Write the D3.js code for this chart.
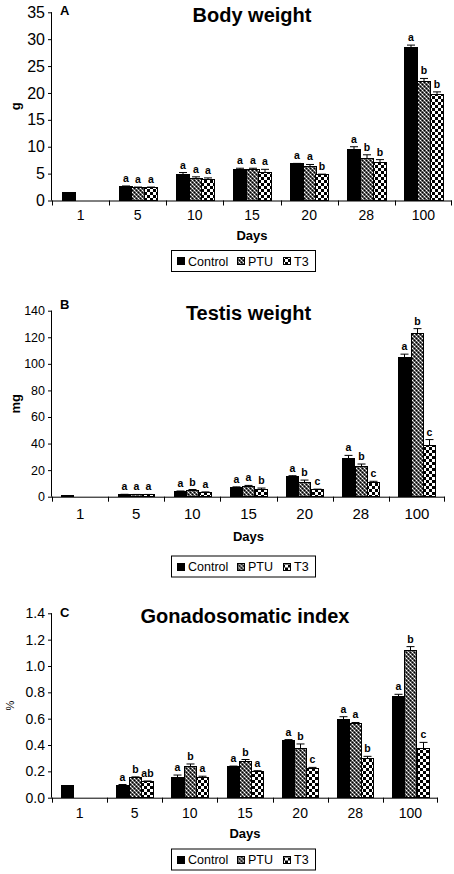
<!DOCTYPE html>
<html><head><meta charset="utf-8">
<script src="https://cdn.jsdelivr.net/npm/d3@7/dist/d3.min.js"></script>
<style>body{margin:0;background:#fff}svg{display:block;font-family:"Liberation Sans",Arial,sans-serif}</style>
</head><body>
<script>
const categories = ["1","5","10","15","20","28","100"];
const series = ["Control","PTU","T3"];

const bodyControl = [1.5, 2.6, 4.8, 5.8, 6.8, 9.4, 28.4];
const bodyControlErr = [0, 0.1, 0.4, 0.2, 0.1, 0.6, 0.5];
const bodyPTU = [null, 2.4, 4.1, 5.8, 6.3, 7.9, 22.2];
const bodyPTUErr = [null, 0.1, 0.3, 0.2, 0.4, 0.6, 0.5];
const bodyT3 = [null, 2.4, 3.9, 5.2, 4.8, 7.1, 19.7];
const bodyT3Err = [null, 0.1, 0.3, 0.6, 0.1, 0.5, 0.5];
const bodySigControl = [null,"a","a","a","a","a","a"];
const bodySigPTU = [null,"a","a","a","a","b","b"];
const bodySigT3 = [null,"a","a","a","b","b","b"];

const testisControl = [0.8, 1.5, 4.0, 7.0, 15.0, 28.4, 104.8];
const testisControlErr = [0, 0.3, 0.3, 0.4, 0.8, 2.7, 2.5];
const testisPTU = [null, 1.5, 5.0, 8.0, 10.8, 22.8, 123.0];
const testisPTUErr = [null, 0.2, 0.4, 0.5, 1.7, 1.8, 3.5];
const testisT3 = [null, 1.5, 3.3, 5.5, 5.3, 11.0, 38.2];
const testisT3Err = [null, 0.2, 0.3, 1.0, 0.4, 0.6, 4.8];
const testisSigControl = [null,"a","a","a","a","a","a"];
const testisSigPTU = [null,"a","b","a","b","b","b"];
const testisSigT3 = [null,"a","a","b","c","c","c"];

const gsiControl = [0.09, 0.095, 0.155, 0.235, 0.437, 0.597, 0.765];
const gsiControlErr = [0, 0.005, 0.017, 0.005, 0.004, 0.018, 0.02];
const gsiPTU = [null, 0.153, 0.24, 0.273, 0.37, 0.567, 1.12];
const gsiPTUErr = [null, 0.005, 0.016, 0.017, 0.038, 0.004, 0.027];
const gsiT3 = [null, 0.122, 0.157, 0.2, 0.218, 0.299, 0.375];
const gsiT3Err = [null, 0.005, 0.006, 0.005, 0.012, 0.015, 0.045];
const gsiSigControl = [null,"a","a","a","a","a","a"];
const gsiSigPTU = [null,"b","b","b","b","a","b"];
const gsiSigT3 = [null,"ab","a","a","c","b","c"];

const bodyTicks = [0,5,10,15,20,25,30,35];
const testisTicks = [0,20,40,60,80,100,120,140];
const gsiTicks = [0,0.2,0.4,0.6,0.8,1.0,1.2,1.4];

const svg = d3.select("body").append("svg").attr("width",454).attr("height",874);
svg.append("rect").attr("width",454).attr("height",874).attr("fill","#fff");

const defs = svg.append("defs");
const pp = defs.append("pattern").attr("id","ptu").attr("width",4).attr("height",4).attr("patternUnits","userSpaceOnUse");
pp.append("rect").attr("width",4).attr("height",4).attr("fill","#555");
[[0,0,"#fff"],[2,2,"#fff"],[2,0,"#000"],[0,2,"#000"],[1,1,"#aaa"],[3,3,"#aaa"]].forEach(([x,y,c])=>pp.append("rect").attr("x",x).attr("y",y).attr("width",1).attr("height",1).attr("fill",c));
const tp = defs.append("pattern").attr("id","t3").attr("width",6).attr("height",6).attr("patternUnits","userSpaceOnUse");
tp.append("rect").attr("width",6).attr("height",6).attr("fill","#fff");
tp.append("rect").attr("width",3).attr("height",3).attr("fill","#000");
tp.append("rect").attr("x",3).attr("y",3).attr("width",3).attr("height",3).attr("fill","#000");
const fills = {Control:"#000", PTU:"url(#ptu)", T3:"url(#t3)"};

function drawPanel(p){
  const g = svg.append("g");
  const x = d3.scaleBand().domain(categories).range([p.x0,p.x1]).padding(0);
  const xs = d3.scaleBand().domain(series).range([0,x.bandwidth()]).paddingInner(0).paddingOuter(0.75);
  const y = d3.scaleLinear().domain([0,p.max]).range([p.y0,p.yTop]);
  series.forEach((s,si)=>{
    const vals = p.values[si], errs = p.errs[si], sig = p.sig[si];
    categories.forEach((c,i)=>{
      const v = vals[i]; if(v==null) return;
      const bx = Math.round(x(c)+xs(s))+0.5, bw = Math.round(xs.bandwidth());
      const top = y(v);
      g.append("rect").attr("x",bx).attr("y",top).attr("width",bw).attr("height",p.y0-top)
        .attr("fill",fills[s]).attr("stroke","#000").attr("stroke-width",1).attr("shape-rendering","crispEdges");
      const e = errs[i]||0;
      const cx = bx+bw/2;
      let labY = top;
      if(e>0){
        const ey = y(v+e);
        g.append("line").attr("x1",cx).attr("x2",cx).attr("y1",top).attr("y2",ey).attr("stroke","#000");
        g.append("line").attr("x1",cx-4).attr("x2",cx+4).attr("y1",ey).attr("y2",ey).attr("stroke","#000");
        labY = ey;
      }
      if(sig[i]) g.append("text").attr("x",cx).attr("y",labY-4).attr("text-anchor","middle")
        .attr("font-size",10.5).attr("font-weight","bold").text(sig[i]);
    });
  });
  const ya = g.append("g").attr("transform",`translate(${p.x0},0)`)
    .call(d3.axisLeft(y).tickValues(p.ticks).tickSize(4).tickPadding(3).tickFormat(p.fmt));
  ya.select(".domain").attr("d",`M-0.5,${p.y0}V${p.yTop}`).attr("stroke","#000");
  ya.selectAll("text").attr("font-size",p.yFont).attr("font-family","Liberation Sans, Arial").attr("fill","#000");
  const xa = g.append("g").attr("transform",`translate(0,${p.y0})`)
    .call(d3.axisBottom(x).tickSize(0).tickPadding(p.xPad));
  xa.select(".domain").attr("d",`M${p.x0},0.5H${p.x1}`).attr("stroke","#000");
  xa.selectAll("text").attr("font-size",p.xFont).attr("font-family","Liberation Sans, Arial").attr("fill","#000");
  categories.forEach(c=>{
    g.append("line").attr("x1",Math.round(x(c))+0.5).attr("x2",Math.round(x(c))+0.5).attr("y1",p.y0).attr("y2",p.y0+5).attr("stroke","#000");
  });
  g.append("line").attr("x1",p.x1-0.5).attr("x2",p.x1-0.5).attr("y1",p.y0).attr("y2",p.y0+5).attr("stroke","#000");
  g.append("text").attr("x",(p.x0+p.x1)/2).attr("y",p.titleY).attr("text-anchor","middle")
    .attr("font-size",20).attr("font-weight","bold").text(p.title);
  g.append("text").attr("x",60).attr("y",p.letterY).attr("font-size",13).attr("font-weight","bold").text(p.letter);
  g.append("text").attr("transform",`translate(${p.ylabX},${(p.y0+p.yTop)/2}) rotate(-90)`)
    .attr("text-anchor","middle").attr("dominant-baseline","central")
    .attr("font-size",p.ylabSize).attr("font-weight",p.ylabWeight).text(p.ylab);
  g.append("text").attr("x",(p.x0+p.x1)/2).attr("y",p.daysY).attr("text-anchor","middle")
    .attr("font-size",13).attr("font-weight","bold").text("Days");
  const lg = g.append("g").attr("transform",`translate(171,${p.legY})`);
  lg.append("rect").attr("x",0.5).attr("y",0.5).attr("width",144).attr("height",21).attr("fill","#fff").attr("stroke","#000");
  const sw = [6,66,112], tx = [17,77,123];
  series.forEach((s,i)=>{
    lg.append("rect").attr("x",sw[i]+0.5).attr("y",7.5).attr("width",7).attr("height",7).attr("fill",fills[s]).attr("stroke","#000").attr("shape-rendering","crispEdges");
    lg.append("text").attr("x",tx[i]).attr("y",15.5).attr("font-size",12.5).text(s);
  });
}

drawPanel({x0:52,x1:452,y0:200.5,yTop:12.3,max:35,ticks:bodyTicks,fmt:d3.format("d"),yFont:16,xFont:14,xPad:10,
  values:[bodyControl,bodyPTU,bodyT3],errs:[bodyControlErr,bodyPTUErr,bodyT3Err],sig:[bodySigControl,bodySigPTU,bodySigT3],
  title:"Body weight",titleY:21.5,letter:"A",letterY:15,ylab:"g",ylabX:15,ylabSize:13,ylabWeight:"bold",daysY:240,legY:250});
drawPanel({x0:52,x1:445,y0:496.7,yTop:310.7,max:140,ticks:testisTicks,fmt:d3.format("d"),yFont:12.5,xFont:15,xPad:12,
  values:[testisControl,testisPTU,testisT3],errs:[testisControlErr,testisPTUErr,testisT3Err],sig:[testisSigControl,testisSigPTU,testisSigT3],
  title:"Testis weight",titleY:320,letter:"B",letterY:309,ylab:"mg",ylabX:15,ylabSize:13,ylabWeight:"bold",daysY:541,legY:555.5});
drawPanel({x0:52,x1:438,y0:797.7,yTop:613.3,max:1.4,ticks:gsiTicks,fmt:d3.format(".1f"),yFont:14,xFont:14,xPad:10,
  values:[gsiControl,gsiPTU,gsiT3],errs:[gsiControlErr,gsiPTUErr,gsiT3Err],sig:[gsiSigControl,gsiSigPTU,gsiSigT3],
  title:"Gonadosomatic index",titleY:623.3,letter:"C",letterY:617,ylab:"%",ylabX:10,ylabSize:11,ylabWeight:"normal",daysY:838,legY:848.5});
</script>
</body></html>
